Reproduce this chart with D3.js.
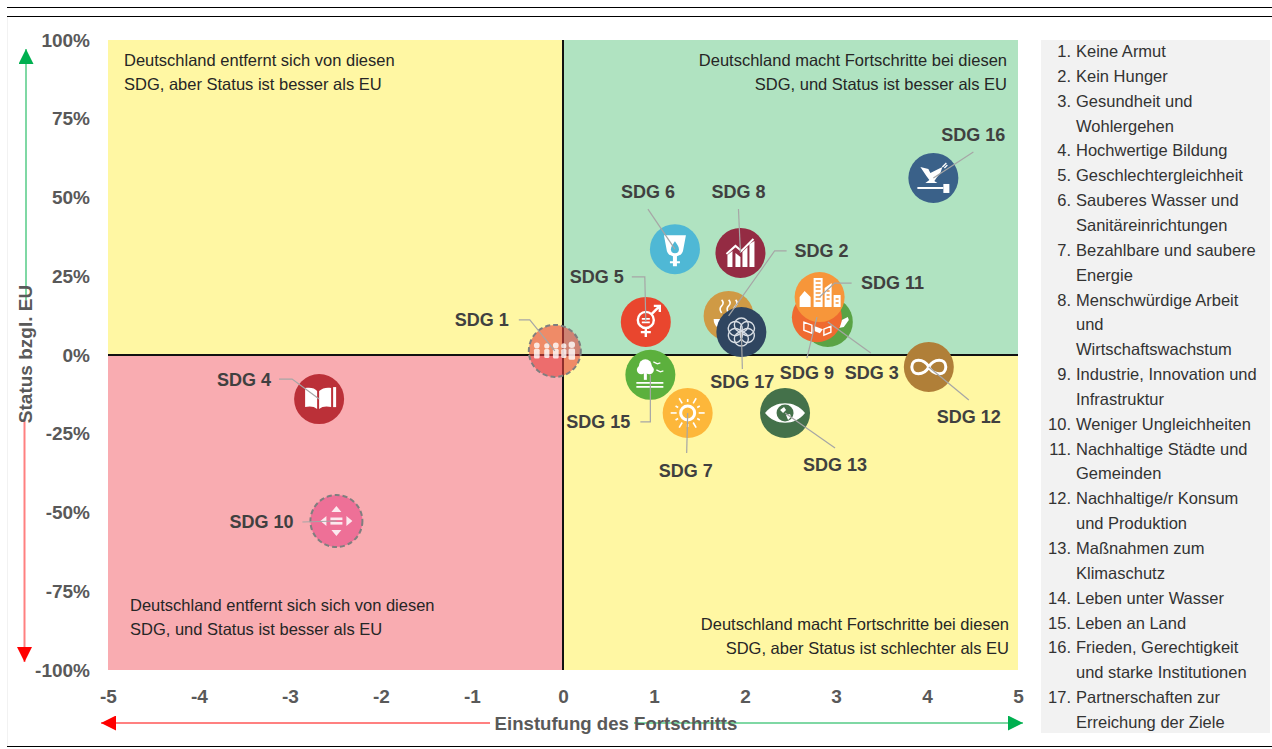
<!DOCTYPE html>
<html lang="de">
<head>
<meta charset="utf-8">
<title>SDG Status</title>
<script src="https://cdn.jsdelivr.net/npm/d3@7"></script>
<style>
	html, body { margin: 0; padding: 0; background: #fff; }
	svg { display: block; font-family: "Liberation Sans", Arial, sans-serif; }
	.axis text { font-size: 19px; font-weight: bold; fill: #595959; }
	.sdg-label { font-size: 18px; font-weight: bold; fill: #404040; }
	.quad-text { font-size: 16.5px; fill: #262626; }
	.legend-text { font-size: 16.5px; fill: #333; }
</style>
</head>
<body>
<script>
// Werte
const goals = [1, 2, 3, 4, 5, 6, 7, 8, 9, 10, 11, 12, 13, 15, 16, 17]
const progress = [-0.09, 1.82, 2.91, -2.68, 0.91, 1.23, 1.37, 1.95, 2.79, -2.49, 2.82, 4.02, 2.44, 0.96, 4.07, 1.96]
const status = [1.3, 12.4, 10.5, -14, 10.5, 33.6, -18.4, 32.4, 12, -52.7, 18.4, -3.8, -18.4, -6.3, 56.2, 7.3]

const xTicks = [-5, -4, -3, -2, -1, 0, 1, 2, 3, 4, 5]
const yTicks = [-100, -75, -50, -25, 0, 25, 50, 75, 100]

const goalNames = [
	['Keine Armut'],
	['Kein Hunger'],
	['Gesundheit und', 'Wohlergehen'],
	['Hochwertige Bildung'],
	['Geschlechtergleichheit'],
	['Sauberes Wasser und', 'Sanitäreinrichtungen'],
	['Bezahlbare und saubere', 'Energie'],
	['Menschwürdige Arbeit', 'und', 'Wirtschaftswachstum'],
	['Industrie, Innovation und', 'Infrastruktur'],
	['Weniger Ungleichheiten'],
	['Nachhaltige Städte und', 'Gemeinden'],
	['Nachhaltige/r Konsum', 'und Produktion'],
	['Maßnahmen zum', 'Klimaschutz'],
	['Leben unter Wasser'],
	['Leben an Land'],
	['Frieden, Gerechtigkeit', 'und starke Institutionen'],
	['Partnerschaften zur', 'Erreichung der Ziele']
]

const quadrantTexts = [
	['Deutschland entfernt sich von diesen', 'SDG, aber Status ist besser als EU'],
	['Deutschland macht Fortschritte bei diesen', 'SDG, und Status ist besser als EU'],
	['Deutschland entfernt sich sich von diesen', 'SDG, und Status ist besser als EU'],
	['Deutschland macht Fortschritte bei diesen', 'SDG, aber Status ist schlechter als EU']
]

const goalColors = {
	1: '#e5433f', 2: '#cf9a45', 3: '#5aa345', 4: '#bb3038', 5: '#e9462e', 6: '#4fb8d5',
	7: '#fdb73a', 8: '#942b43', 9: '#ef6a30', 10: '#ee7097', 11: '#f7963a', 12: '#b07f38',
	13: '#44714a', 15: '#5cb03d', 16: '#3a6189', 17: '#2f4560'
}

// Beschriftung und Führungslinie relativ zum Kreis
const labelOffset = {
	1: [-73, -31], 2: [93, -65], 3: [44, 51], 4: [-75, -19], 5: [-49, -45], 6: [-27, -57],
	7: [-2, 58], 8: [-2, -61], 9: [-10, 56], 10: [-75, 1], 11: [73, -14], 12: [40, 50],
	13: [50, 52], 15: [-52, 47], 16: [40, -43], 17: [1, 50]
}
const leaderPoints = {
	1: [[-36, -31], [-25, -31]], 2: [[58, -65], [46, -65]], 3: [[43, 31]], 4: [[-40, -20], [-27, -20]],
	5: [[-14, -45], [-1, -45]], 6: [[-27, -40]], 7: [[-1, 40]], 8: [[-2, -44]], 9: [[-10, 41]],
	10: [[-34, 1]], 11: [[32, -14], [15, -14]], 12: [[40, 33]], 13: [[50, 35]],
	15: [[-10, 47], [0, 47]], 16: [[40, -26]], 17: [[1, 37]]
}

// Piktogramme, Ursprung in der Kreismitte
const person = (x, s) => `<circle cx="${x}" cy="${-5 * s}" r="${2.6 * s}"/><rect x="${x - 2.6 * s}" y="${-2 * s}" width="${5.2 * s}" height="${9 * s}" rx="1.5"/>`
const goalIcons = {
	1: `<g opacity=".8">${person(-18, 1.1)}${person(-8, 1)}${person(1, 1.1)}${person(9, 1)}${person(17, 1.25)}</g>`,
	2: `<path d="M-15 3h30a15 13 0 0 1-30 0z"/><path d="M-7-3q-3-4 0-7t0-6M0-3q-3-4 0-7t0-6M7-3q-3-4 0-7t0-6" fill="none" stroke="#fff" stroke-width="1.6"/>`,
	3: `<path d="M14-2l6-3 1 3-5 7-5 1z"/>`,
	4: `<path d="M-14-11c5-1 10 0 12 3v18c-3-3-8-3-12-2zM0-8c3-3 8-4 12-3V8c-4-1-9-1-12 2z"/><rect x="14" y="-12" width="3" height="20"/>`,
	5: `<circle cx="0" cy="-2" r="8" fill="none" stroke="#fff" stroke-width="2.4"/><path d="M-4-4h8v1.8h-8zM-4-.5h8v1.8h-8zM-1.2 6h2.4v9h-2.4zM-5 9h10v2.4H-5z"/><path d="M6-8 13-15M8-16h6v6" fill="none" stroke="#fff" stroke-width="2.4"/>`,
	6: `<path d="M-11-14H11L8 2a8 8 0 0 1-6 5v5h3v2h-3v3h-4v-3h-3v-2h3V7a8 8 0 0 1-6-5z"/><path d="M0-8c3 4 4 6 4 8a4 4 0 0 1-8 0c0-2 1-4 4-8z" fill="#4fb8d5"/>`,
	7: `<circle r="7" fill="none" stroke="#fff" stroke-width="3"/><g stroke="#fff" stroke-width="1.6">${d3.range(12).map(i => `<line x1="11" x2="${i % 2 ? 14 : 17}" transform="rotate(${i * 30})"/>`).join('')}</g>`,
	8: `<path d="M-13 14V2l5-4v16zM-5 14V0l5 4v10zM2 14V-1l5-5v20zM9 14V-9l5-3v26z"/><path d="M-14 1-5-7l6 5L13-14" fill="none" stroke="#fff" stroke-width="2"/>`,
	9: `<path d="M-13 5l8 3v8l-8-3zM7 12l7-3v6l-7 3z" fill="none" stroke="#fff" stroke-width="1.4"/><path d="M-2 9l8 3-3 4-5-2z"/>`,
	10: `<g opacity=".85"><path d="M-5-9 0-15 5-9zM-5 9 0 15 5 9zM-10-5-16 0-10 5zM10-5 16 0 10 5z"/><rect x="-6" y="-3.5" width="12" height="2.6"/><rect x="-6" y="1" width="12" height="2.6"/></g>`,
	11: `<path d="M-6-19H3V10H-6zM5-9l7-5V10H5zM14-2h7V10h-7zM-20 0l5-6 6 6V10H-20z"/><path d="M-4-16h5M-4-12h5M-4-8h5M-4-4h5M-4 0h5M-4 4h5M7-6h3M7-2h3M7 2h3M16 2h3M16 6h3" stroke="#f7963a" stroke-width="1.4" fill="none"/>`,
	12: `<path d="M0 0C-5-9-17-9-17 0S-5 9 0 0 17-9 17 0 5 9 0 0z" fill="none" stroke="#fff" stroke-width="3"/>`,
	13: `<path d="M-20 0C-10-13 10-13 20 0 10 13-10 13-20 0z"/><circle r="8.5" fill="#44714a"/><path d="M-5-3l4-3 2 3-3 3zM1 2l4-1 1 3-3 3z"/>`,
	15: `<circle cx="-5" cy="-9" r="6.5"/><circle cx="-9" cy="-5" r="4.5"/><circle cx="-1" cy="-5" r="4.5"/><rect x="-6.5" y="-3" width="3" height="8"/><path d="M-14 8h27M-14 12h27" stroke="#fff" stroke-width="1.6"/><path d="M3-13l4 2 3-1M6-5l4 2 3-1" fill="none" stroke="#fff" stroke-width="1.2"/>`,
	16: `<path d="M-13-11-5-9-3-5 3-8 9-11 7-5 3 0 1 3 4 5H-8L-4 2-7-2z"/><path d="M9-11l4-4M11-10l3-3" stroke="#fff" stroke-width="1.3"/><path d="M-16 10H10" stroke="#fff" stroke-width="2"/><rect x="10" y="6" width="6" height="9"/>`,
	17: `<g fill="none" stroke="#d8dde3" stroke-width="1.4">${d3.range(6).map(i => `<circle cx="0" cy="-7" r="7" transform="rotate(${i * 60})"/>`).join('')}</g>`
}

const margin = { top: 40, right: 254, bottom: 79, left: 108 }
const width = 1272 - margin.left - margin.right
const height = 749 - margin.top - margin.bottom

const x = d3.scaleLinear()
	.domain([-5, 5])
	.range([0, width])

const y = d3.scaleLinear()
	.domain([-100, 100])
	.range([height, 0])

const root = d3.select('body').append('svg')
		.attr('width', 1272)
		.attr('height', 749)

const defs = root.append('defs')
const addHead = (id, color) => defs.append('marker')
		.attr('id', id)
		.attr('viewBox', '0 0 15 15')
		.attr('refX', 15)
		.attr('refY', 7.5)
		.attr('markerUnits', 'userSpaceOnUse')
		.attr('markerWidth', 15)
		.attr('markerHeight', 15)
		.attr('orient', 'auto')
	.append('path')
		.attr('d', 'M0,0L15,7.5L0,15Z')
		.attr('fill', color)
addHead('head-green', '#00b050')
addHead('head-red', '#ff0000')

// Rahmenlinien
root.selectAll('.rule')
		.data([7.5, 16.5, 746.5])
	.enter().append('line')
		.attr('class', 'rule')
		.attr('x1', 7)
		.attr('x2', 1272)
		.attr('y1', d => d)
		.attr('y2', d => d)
		.attr('stroke', '#000')
root.append('line')
		.attr('x1', 7.5)
		.attr('x2', 7.5)
		.attr('y1', 17)
		.attr('y2', 746)
		.attr('stroke', '#f2f2f2')

const svg = root.append('g')
		.attr('transform', `translate(${margin.left}, ${margin.top})`)

// Quadranten
const quadrants = [
	{ x0: -5, x1: 0, y0: 100, y1: 0, fill: '#fff7a3' },
	{ x0: 0, x1: 5, y0: 100, y1: 0, fill: '#b0e3c1' },
	{ x0: -5, x1: 0, y0: 0, y1: -100, fill: '#f9acb1' },
	{ x0: 0, x1: 5, y0: 0, y1: -100, fill: '#fff7a3' }
]
svg.selectAll('.quadrant')
		.data(quadrants)
	.enter().append('rect')
		.attr('class', 'quadrant')
		.attr('x', d => x(d.x0))
		.attr('y', d => y(d.y0))
		.attr('width', d => x(d.x1) - x(d.x0))
		.attr('height', d => y(d.y1) - y(d.y0))
		.attr('fill', d => d.fill)

svg.append('line')
		.attr('x1', x(-5))
		.attr('x2', x(5))
		.attr('y1', y(0))
		.attr('y2', y(0))
		.attr('stroke', '#111')
		.attr('stroke-width', 2)
svg.append('line')
		.attr('x1', x(0))
		.attr('x2', x(0))
		.attr('y1', y(100))
		.attr('y2', y(-100))
		.attr('stroke', '#111')
		.attr('stroke-width', 2)

// Quadrantentexte
const quadPlace = [
	{ x: 16, y: 26, anchor: 'start' },
	{ x: 899, y: 26, anchor: 'end' },
	{ x: 22, y: 571, anchor: 'start' },
	{ x: 901, y: 590, anchor: 'end' }
]
quadrantTexts.forEach((lines, i) => {
	svg.selectAll(null)
			.data(lines)
		.enter().append('text')
			.attr('class', 'quad-text')
			.attr('x', quadPlace[i].x)
			.attr('y', (d, j) => quadPlace[i].y + j * 23.5)
			.attr('text-anchor', quadPlace[i].anchor)
			.text(d => d)
})

// Achsen
const xAxis = svg.append('g')
		.attr('class', 'axis axis--x')
		.attr('transform', `translate(0, ${height})`)
		.call(d3.axisBottom(x).tickValues(xTicks).tickSize(0).tickPadding(20).tickFormat(d => d))
xAxis.select('.domain').remove()

const yAxis = svg.append('g')
		.attr('class', 'axis axis--y')
		.call(d3.axisLeft(y).tickValues(yTicks).tickSize(0).tickPadding(18).tickFormat(d => d + '%'))
yAxis.select('.domain').remove()

// Pfeile
const arrows = [
	{ x1: 26, y1: 300, x2: 26, y2: 49, line: '#7fd8a4', head: 'head-green' },
	{ x1: 24.5, y1: 420, x2: 24.5, y2: 662, line: '#ff8080', head: 'head-red' },
	{ x1: 490, y1: 723, x2: 101, y2: 723, line: '#ff8080', head: 'head-red' },
	{ x1: 634, y1: 723, x2: 1023, y2: 723, line: '#7fd8a4', head: 'head-green' }
]
root.selectAll('.arrow')
		.data(arrows)
	.enter().append('line')
		.attr('class', 'arrow')
		.attr('x1', d => d.x1)
		.attr('x2', d => d.x2)
		.attr('y1', d => d.y1)
		.attr('y2', d => d.y2)
		.attr('stroke', d => d.line)
		.attr('stroke-width', 2)
		.attr('marker-end', d => `url(#${d.head})`)

root.append('text')
		.attr('class', 'axis-title')
		.attr('x', 616)
		.attr('y', 730)
		.attr('text-anchor', 'middle')
		.attr('font-size', 18.6)
		.attr('font-weight', 'bold')
		.attr('fill', '#595959')
		.text('Einstufung des Fortschritts')
root.append('text')
		.attr('class', 'axis-title')
		.attr('transform', 'translate(32, 354) rotate(-90)')
		.attr('text-anchor', 'middle')
		.attr('font-size', 19)
		.attr('font-weight', 'bold')
		.attr('fill', '#595959')
		.text('Status bzgl. EU')

// SDG-Punkte
const points = goals.map((g, i) => ({ goal: g, x: progress[i], y: status[i] }))

const point = svg.selectAll('.point')
		.data(points)
	.enter().append('g')
		.attr('class', 'point')
		.attr('transform', d => `translate(${x(d.x)}, ${y(d.y)})`)

const dashed = d => d.goal === 1 || d.goal === 10

point.append('circle')
		.attr('r', d => dashed(d) ? 26 : 25)
		.attr('fill', d => goalColors[d.goal])
		.attr('fill-opacity', d => d.goal === 1 ? 0.6 : 1)
		.attr('stroke', d => dashed(d) ? '#7f7f7f' : 'none')
		.attr('stroke-width', 2)
		.attr('stroke-dasharray', '5 3')

point.append('g')
		.attr('fill', '#fff')
		.html(d => goalIcons[d.goal])

const leader = d3.line()

const labels = svg.selectAll('.sdg')
		.data(points)
	.enter().append('g')
		.attr('class', 'sdg')
		.attr('transform', d => `translate(${x(d.x)}, ${y(d.y)})`)

labels.append('path')
		.attr('d', d => leader([...leaderPoints[d.goal], [0, 0]]))
		.attr('fill', 'none')
		.attr('stroke', '#a6a6a6')
		.attr('stroke-width', 1.2)

labels.append('text')
		.attr('class', 'sdg-label')
		.attr('x', d => labelOffset[d.goal][0])
		.attr('y', d => labelOffset[d.goal][1])
		.attr('dy', '0.35em')
		.attr('text-anchor', 'middle')
		.text(d => 'SDG ' + d.goal)

// Legende
root.append('rect')
		.attr('x', 1041)
		.attr('y', 40)
		.attr('width', 229)
		.attr('height', 693)
		.attr('fill', '#f2f2f2')

let lineNo = 0
const legend = root.append('g').attr('class', 'legend-text')
goalNames.forEach((lines, i) => {
	legend.append('text')
			.attr('x', 1071)
			.attr('y', 57 + lineNo * 24.85)
			.attr('text-anchor', 'end')
			.text((i + 1) + '.')
	lines.forEach(line => {
		legend.append('text')
				.attr('x', 1076)
				.attr('y', 57 + lineNo * 24.85)
				.text(line)
		lineNo++
	})
})
</script>
</body>
</html>
